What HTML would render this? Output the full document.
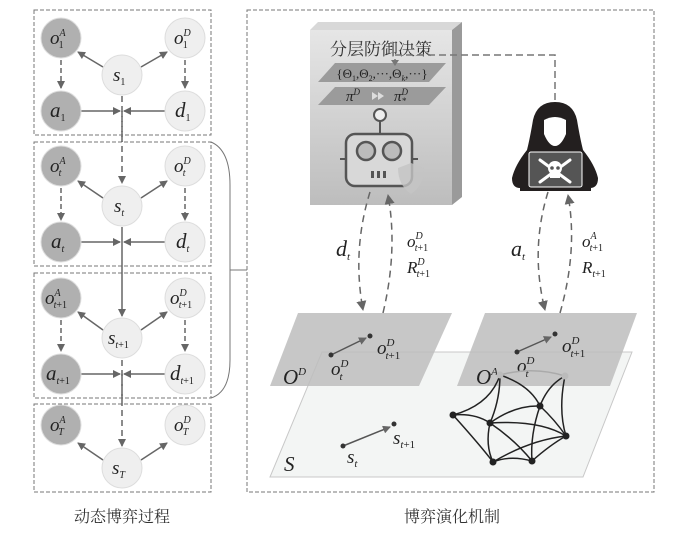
<!DOCTYPE html>
<html><head><meta charset="utf-8"><style>
html,body{margin:0;padding:0;background:#fff;}
svg{display:block;}
.m{font-family:"Liberation Serif",serif;font-style:italic;fill:#222;}
.cn{font-family:"Liberation Serif","Noto Serif CJK SC",serif;fill:#333;}
</style></head><body>
<svg width="676" height="536" viewBox="0 0 676 536" xmlns="http://www.w3.org/2000/svg">
<defs>
<marker id="ar" markerWidth="8" markerHeight="8" refX="7" refY="4" orient="auto" markerUnits="userSpaceOnUse">
<path d="M0,0 L8,4 L0,8 z" fill="#666"/></marker>
<marker id="ar2" markerWidth="10" markerHeight="10" refX="9" refY="5" orient="auto" markerUnits="userSpaceOnUse">
<path d="M0,0 L10,5 L0,10 z" fill="#666"/></marker>
<linearGradient id="srv" x1="0" y1="0" x2="0" y2="1"><stop offset="0" stop-color="#e6e6e6"/><stop offset="1" stop-color="#bdbdbd"/></linearGradient>
</defs>

<g fill="none" stroke="#777" stroke-dasharray="4,2" stroke-width="1">
<rect x="34" y="10" width="177" height="125"/>
<rect x="34" y="142" width="177" height="124"/>
<rect x="34" y="273" width="177" height="125"/>
<rect x="34" y="404" width="177" height="88"/>
</g>
<path d="M211,142 Q230,150 230,185 L230,360 Q230,392 211,398" fill="none" stroke="#777"/>
<line x1="230" y1="270" x2="247" y2="270" stroke="#777"/>

<g stroke="#666" stroke-width="1.5" fill="none">
<line x1="122" y1="96" x2="122" y2="183" stroke-dasharray="6,4" marker-end="url(#ar)"/>
<line x1="122" y1="227" x2="122" y2="316" marker-end="url(#ar)"/>
<line x1="122" y1="360" x2="122" y2="446" stroke-dasharray="6,4" marker-end="url(#ar)"/>
</g>

<g stroke="#666" stroke-width="1.5" fill="none">
<line x1="103" y1="67" x2="78" y2="52" marker-end="url(#ar)"/>
<line x1="141" y1="67" x2="167" y2="52" marker-end="url(#ar)"/>
<line x1="61" y1="60" x2="61" y2="88" stroke-dasharray="5,3" marker-end="url(#ar)"/>
<line x1="185" y1="60" x2="185" y2="88" stroke-dasharray="5,3" marker-end="url(#ar)"/>
<line x1="81" y1="111" x2="120" y2="111" marker-end="url(#ar)"/>
<line x1="165" y1="111" x2="124" y2="111" marker-end="url(#ar)"/>
<line x1="103" y1="198" x2="78" y2="181" marker-end="url(#ar)"/>
<line x1="141" y1="198" x2="167" y2="181" marker-end="url(#ar)"/>
<line x1="61" y1="188" x2="61" y2="220" stroke-dasharray="5,3" marker-end="url(#ar)"/>
<line x1="185" y1="188" x2="185" y2="220" stroke-dasharray="5,3" marker-end="url(#ar)"/>
<line x1="81" y1="242" x2="120" y2="242" marker-end="url(#ar)"/>
<line x1="165" y1="242" x2="124" y2="242" marker-end="url(#ar)"/>
<line x1="103" y1="330" x2="78" y2="312" marker-end="url(#ar)"/>
<line x1="141" y1="330" x2="167" y2="312" marker-end="url(#ar)"/>
<line x1="61" y1="320" x2="61" y2="351" stroke-dasharray="5,3" marker-end="url(#ar)"/>
<line x1="185" y1="320" x2="185" y2="351" stroke-dasharray="5,3" marker-end="url(#ar)"/>
<line x1="81" y1="374" x2="120" y2="374" marker-end="url(#ar)"/>
<line x1="165" y1="374" x2="124" y2="374" marker-end="url(#ar)"/>
<line x1="122" y1="374" x2="122" y2="404" stroke-dasharray="6,4"/>
<line x1="122" y1="111" x2="122" y2="142" stroke-dasharray="6,4"/>
<line x1="103" y1="460" x2="78" y2="443" marker-end="url(#ar)"/>
<line x1="141" y1="460" x2="167" y2="443" marker-end="url(#ar)"/>
</g>

<g stroke="#ddd" stroke-width="1">
<circle cx="61" cy="38" r="20" fill="#b0b0b0"/>
<circle cx="185" cy="38" r="20" fill="#efefef"/>
<circle cx="122" cy="75" r="20" fill="#efefef"/>
<circle cx="61" cy="111" r="20" fill="#b0b0b0"/>
<circle cx="185" cy="111" r="20" fill="#efefef"/>
<circle cx="61" cy="166" r="20" fill="#b0b0b0"/>
<circle cx="185" cy="166" r="20" fill="#efefef"/>
<circle cx="122" cy="206" r="20" fill="#efefef"/>
<circle cx="61" cy="242" r="20" fill="#b0b0b0"/>
<circle cx="185" cy="242" r="20" fill="#efefef"/>
<circle cx="61" cy="298" r="20" fill="#b0b0b0"/>
<circle cx="185" cy="298" r="20" fill="#efefef"/>
<circle cx="122" cy="338" r="20" fill="#efefef"/>
<circle cx="61" cy="374" r="20" fill="#b0b0b0"/>
<circle cx="185" cy="374" r="20" fill="#efefef"/>
<circle cx="61" cy="425" r="20" fill="#b0b0b0"/>
<circle cx="185" cy="425" r="20" fill="#efefef"/>
<circle cx="122" cy="468" r="20" fill="#efefef"/>
</g>

<g class="m" font-size="19">
<text x="50" y="44">o<tspan dy="-8" font-size="10">A</tspan><tspan font-size="10" dx="-7" dy="12" font-style="normal">1</tspan></text>
<text x="174" y="44">o<tspan dy="-8" font-size="10">D</tspan><tspan font-size="10" dx="-8" dy="12" font-style="normal">1</tspan></text>
<text x="113" y="81">s<tspan font-size="10" dy="4" font-style="normal">1</tspan></text>
<text x="50" y="117" font-size="21">a<tspan font-size="10" dy="4" font-style="normal">1</tspan></text>
<text x="175" y="117" font-size="21">d<tspan font-size="10" dy="4" font-style="normal">1</tspan></text>

<text x="50" y="172">o<tspan dy="-8" font-size="10">A</tspan><tspan font-size="10" dx="-7" dy="12">t</tspan></text>
<text x="174" y="172">o<tspan dy="-8" font-size="10">D</tspan><tspan font-size="10" dx="-8" dy="12">t</tspan></text>
<text x="114" y="212">s<tspan font-size="10" dy="4">t</tspan></text>
<text x="51" y="248" font-size="21">a<tspan font-size="10" dy="4">t</tspan></text>
<text x="176" y="248" font-size="21">d<tspan font-size="10" dy="4">t</tspan></text>

<text x="45" y="304">o<tspan dy="-8" font-size="10">A</tspan><tspan font-size="10" dx="-7" dy="12">t<tspan font-style="normal">+1</tspan></tspan></text>
<text x="170" y="304">o<tspan dy="-8" font-size="10">D</tspan><tspan font-size="10" dx="-8" dy="12">t<tspan font-style="normal">+1</tspan></tspan></text>
<text x="108" y="344">s<tspan font-size="10" dy="4">t<tspan font-style="normal">+1</tspan></tspan></text>
<text x="46" y="380" font-size="21">a<tspan font-size="10" dy="4">t<tspan font-style="normal">+1</tspan></tspan></text>
<text x="170" y="380" font-size="21">d<tspan font-size="10" dy="4">t<tspan font-style="normal">+1</tspan></tspan></text>

<text x="50" y="431">o<tspan dy="-8" font-size="10">A</tspan><tspan font-size="10" dx="-7" dy="12">T</tspan></text>
<text x="174" y="431">o<tspan dy="-8" font-size="10">D</tspan><tspan font-size="10" dx="-8" dy="12">T</tspan></text>
<text x="112" y="474">s<tspan font-size="10" dy="4">T</tspan></text>
</g>
<text x="122" y="522" class="cn" font-size="16" text-anchor="middle">动态博弈过程</text>

<rect x="247" y="10" width="407" height="482" fill="none" stroke="#777" stroke-dasharray="4,2"/>
<text x="452" y="522" class="cn" font-size="16" text-anchor="middle">博弈演化机制</text>

<polygon points="322,352 632,352 583,477 270,477" fill="#f3f5f4" stroke="#c8c8c8"/>
<polygon points="298,313 452,313 419,386 270,386" fill="#bdbdbd" fill-opacity="0.85"/>
<polygon points="485,313 637,313 610,386 457,386" fill="#bdbdbd" fill-opacity="0.85"/>

<g stroke="#555" stroke-width="1.5" fill="none">
<line x1="331" y1="355" x2="366" y2="338" marker-end="url(#ar)"/>
<line x1="517" y1="352" x2="551" y2="337" marker-end="url(#ar)"/>
<line x1="343" y1="446" x2="390" y2="427" marker-end="url(#ar)"/>
</g>
<g fill="#333">
<circle cx="331" cy="355" r="2.5"/><circle cx="370" cy="336" r="2.5"/>
<circle cx="517" cy="352" r="2.5"/><circle cx="555" cy="334" r="2.5"/>
<circle cx="343" cy="446" r="2.5"/><circle cx="394" cy="424" r="2.5"/>
</g>
<g class="m" font-size="19">
<text x="283" y="384" font-size="21">O<tspan dy="-9" font-size="11">D</tspan></text>
<text x="331" y="375">o<tspan dy="-8" font-size="11">D</tspan><tspan font-size="11" dx="-9" dy="13">t</tspan></text>
<text x="377" y="354">o<tspan dy="-8" font-size="11">D</tspan><tspan font-size="11" dx="-9" dy="13">t<tspan font-style="normal">+1</tspan></tspan></text>
<text x="476" y="384" font-size="21">O<tspan dy="-9" font-size="11">A</tspan></text>
<text x="517" y="372">o<tspan dy="-8" font-size="11">D</tspan><tspan font-size="11" dx="-9" dy="13">t</tspan></text>
<text x="562" y="352">o<tspan dy="-8" font-size="11">D</tspan><tspan font-size="11" dx="-9" dy="13">t<tspan font-style="normal">+1</tspan></tspan></text>
<text x="284" y="471" font-size="21">S</text>
<text x="347" y="463">s<tspan font-size="11" dy="4">t</tspan></text>
<text x="393" y="444">s<tspan font-size="11" dy="4">t<tspan font-style="normal">+1</tspan></tspan></text>
</g>

<g fill="none" stroke="#222" stroke-width="1.5">
<path d="M453,415 Q490,405 500,375"/>
<path d="M453,415 Q475,413 490,423"/>
<path d="M453,415 Q480,445 493,462"/>
<path d="M500,375 Q500,400 490,423"/>
<path d="M500,375 Q530,385 540,406"/>
<path d="M565,376 Q548,385 540,406"/>
<path d="M565,376 Q558,410 566,436"/>
<path d="M490,423 Q515,405 540,406"/>
<path d="M490,423 Q485,445 493,462"/>
<path d="M490,423 Q540,420 566,436"/>
<path d="M490,423 Q515,440 532,461"/>
<path d="M540,406 Q530,435 532,461"/>
<path d="M540,406 Q555,420 566,436"/>
<path d="M493,462 Q510,455 532,461"/>
<path d="M493,462 Q530,440 566,436"/>
<path d="M532,461 Q550,445 566,436"/>
</g>
<path d="M500,375 Q533,366 565,376" fill="none" stroke="#aaa" stroke-width="1.5"/>
<g fill="#222"><circle cx="453" cy="415" r="3.5"/><circle cx="490" cy="423" r="3.5"/><circle cx="540" cy="406" r="3.5"/><circle cx="566" cy="436" r="3.5"/><circle cx="532" cy="461" r="3.5"/><circle cx="493" cy="462" r="3.5"/></g>
<g fill="#bbb"><circle cx="500" cy="375" r="3.5"/><circle cx="565" cy="376" r="3.5"/></g>

<polygon points="310,30 318,22 462,22 452,30" fill="#d8d8d8"/>
<polygon points="452,30 462,22 462,197 452,205" fill="#9a9a9a"/>
<rect x="310" y="30" width="142" height="175" fill="url(#srv)"/>
<text x="381" y="55" class="cn" font-size="17" text-anchor="middle">分层防御决策</text>
<polygon points="335,63 446,63 429,82 318,82" fill="#9b9b9b"/>
<polygon points="335,87 446,87 429,105 318,105" fill="#9b9b9b"/>
<text x="382" y="78" font-family="Liberation Serif,serif" font-size="13" fill="#222" text-anchor="middle">{Θ<tspan font-size="8" dy="3">1</tspan><tspan dy="-3">,Θ</tspan><tspan font-size="8" dy="3">2</tspan><tspan dy="-3">,···,Θ</tspan><tspan font-size="8" dy="3" font-style="italic">k</tspan><tspan dy="-3">,···}</tspan></text>
<text x="346" y="101" class="m" font-size="15">π<tspan font-size="9" dy="-6">D</tspan></text>
<path d="M372,92 l6,4 l-6,4 z M378,92 l6,4 l-6,4 z" fill="#ddd"/>
<text x="394" y="101" class="m" font-size="15">π<tspan font-size="9" dy="-6">D</tspan><tspan font-size="9" dx="-6" dy="9" font-style="normal">*</tspan></text>
<line x1="380" y1="120" x2="380" y2="134" stroke="#555" stroke-width="2"/>
<circle cx="380" cy="115" r="6" fill="#eee" stroke="#555" stroke-width="2"/>
<line x1="340" y1="159" x2="418" y2="159" stroke="#555" stroke-width="2"/>
<rect x="346" y="134" width="66" height="52" rx="9" fill="#d8d8d8" stroke="#555" stroke-width="2.5"/>
<circle cx="366" cy="151" r="9" fill="#bbb" stroke="#555" stroke-width="2.5"/>
<circle cx="392" cy="151" r="9" fill="#bbb" stroke="#555" stroke-width="2.5"/>
<g fill="#555"><rect x="371" y="171" width="3" height="7"/><rect x="377" y="171" width="3" height="7"/><rect x="383" y="171" width="3" height="7"/></g>
<path d="M398,168 L411,163 L424,168 Q424,185 411,194 Q398,185 398,168 z" fill="#c4c4c4" opacity="0.8"/>

<path d="M555,102 Q537,102 533,120 Q530,138 527,150 Q515,165 512,178 Q512,188 520,188 L590,188 Q598,188 598,178 Q595,165 583,150 Q580,138 577,120 Q573,102 555,102 z" fill="#231f1f"/>
<path d="M544,120 Q555,114 566,120 L566,134 Q561,146 555,146 Q549,146 544,134 z" fill="#fff"/>
<rect x="529" y="152" width="53" height="35" rx="2" fill="#555" stroke="#fff" stroke-width="1"/>
<rect x="520" y="188" width="71" height="3" fill="#231f1f"/>
<g stroke="#fff" stroke-width="3" stroke-linecap="round"><line x1="540" y1="160" x2="570" y2="182"/><line x1="570" y1="160" x2="540" y2="182"/></g>
<circle cx="555" cy="168" r="7" fill="#fff"/><rect x="550" y="172" width="10" height="6" fill="#fff"/>
<circle cx="552" cy="168" r="1.8" fill="#555"/><circle cx="558" cy="168" r="1.8" fill="#555"/>

<path d="M555,100 L555,55 L395,55 L395,62" fill="none" stroke="#777" stroke-width="1.5" stroke-dasharray="7,4"/>
<path d="M391,60 L399,60 L395,66 z" fill="#777"/>

<g fill="none" stroke="#666" stroke-width="1.5" stroke-dasharray="7,5">
<path d="M370,192 Q352,250 363,310" marker-end="url(#ar2)"/>
<path d="M383,313 Q398,250 388,195" marker-end="url(#ar2)"/>
<path d="M548,192 Q530,250 545,310" marker-end="url(#ar2)"/>
<path d="M560,313 Q578,250 568,195" marker-end="url(#ar2)"/>
</g>
<g class="m" font-size="22">
<text x="336" y="256">d<tspan font-size="11" dy="4">t</tspan></text>
<text x="511" y="256">a<tspan font-size="11" dy="4">t</tspan></text>
</g>
<g class="m" font-size="17">
<text x="407" y="247">o<tspan dy="-8" font-size="10">D</tspan><tspan font-size="10" dx="-8" dy="12">t<tspan font-style="normal">+1</tspan></tspan></text>
<text x="407" y="273">R<tspan dy="-8" font-size="10">D</tspan><tspan font-size="10" dx="-8" dy="12">t<tspan font-style="normal">+1</tspan></tspan></text>
<text x="582" y="247">o<tspan dy="-8" font-size="10">A</tspan><tspan font-size="10" dx="-7" dy="12">t<tspan font-style="normal">+1</tspan></tspan></text>
<text x="582" y="273">R<tspan font-size="10" dy="4">t<tspan font-style="normal">+1</tspan></tspan></text>
</g>
</svg>
</body></html>
